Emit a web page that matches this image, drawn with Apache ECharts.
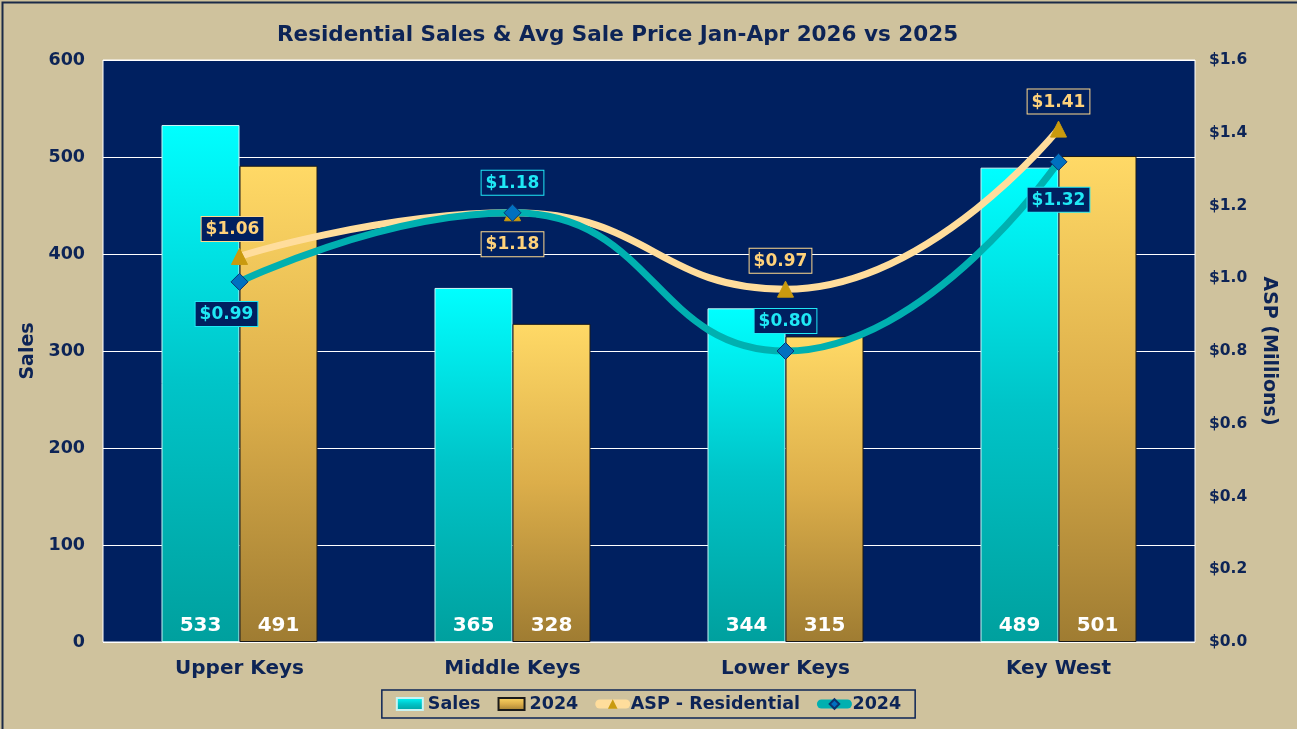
<!DOCTYPE html>
<html>
  <head>
    <meta charset="UTF-8" />
    <title>Residential Sales & Avg Sale Price</title>
    <script src="https://cdn.jsdelivr.net/npm/echarts@6.0.0/dist/echarts.min.js"></script>
    <style>
      html, body { margin: 0; padding: 0; background: #cfc29d; }
    </style>
  </head>
  <body>
    <div id="salesChart" style="width: 1297px; height: 729px"></div>
  </body>
  <script>
    const regions = ["Upper Keys", "Middle Keys", "Lower Keys", "Key West"];
    const sales2026 = [533, 365, 344, 489];
    const sales2024 = [491, 328, 315, 501];
    const aspResidential = [1.06, 1.18, 0.97, 1.41];
    const asp2024 = [0.99, 1.18, 0.8, 1.32];
    const salesTicks = [0, 100, 200, 300, 400, 500, 600];

    const navy = "#0d2456";
    const font = "DejaVu Sans";

    let myChart = echarts.init(document.getElementById("salesChart"));

    // label boxes for the two lines
    function boxLabel(textColor, borderColor) {
      return {
        show: true,
        color: textColor,
        fontFamily: font,
        fontWeight: "bold",
        fontSize: 17,
        backgroundColor: "#002060",
        borderColor: borderColor,
        borderWidth: 1,
        padding: [4, 4, 3, 4],
        formatter: (p) => "$" + p.value.toFixed(2),
      };
    }

    const goldPos = [
      { position: "top", offset: [-7, -2] },
      { position: "bottom", offset: [0, 6] },
      { position: "top", offset: [-5, -3] },
      { position: "top", offset: [0, -2] },
    ];
    const tealPos = [
      { position: "bottom", offset: [-13, 6] },
      { position: "top", offset: [0, -4] },
      { position: "top", offset: [0, -4] },
      { position: "bottom", offset: [0, 12] },
    ];

    myChart.setOption({
      backgroundColor: "#cfc29d",
      textStyle: { fontFamily: font },
      title: {
        text: "Residential Sales & Avg Sale Price Jan-Apr 2026 vs 2025",
        left: 272,
        top: 19,
        textStyle: { color: navy, fontSize: 21.5, fontWeight: "bold", fontFamily: font },
      },
      legend: {
        left: "center",
        top: 690,
        borderColor: navy,
        borderWidth: 1.5,
        padding: [5, 14, 5, 14],
        itemGap: 17,
        itemWidth: 26,
        itemHeight: 12,
        textStyle: { color: navy, fontSize: 17.5, fontWeight: "bold", fontFamily: font },
        data: [
          { name: "Sales", icon: "rect" },
          { name: "2024", icon: "rect" },
          { name: "ASP - Residential", lineStyle: { width: 9, cap: "round" } },
          { name: "2024 ", lineStyle: { width: 9, cap: "round" } },
        ],
        formatter: (n) => n.trim(),
      },
      grid: {
        left: 103,
        right: 102,
        top: 60,
        bottom: 87,
        show: true,
        backgroundColor: "#002060",
        borderColor: "#ffffff",
        borderWidth: 1,
      },
      xAxis: {
        type: "category",
        data: regions,
        axisLine: { show: false },
        axisTick: { show: false },
        axisLabel: { color: navy, fontSize: 20, fontWeight: "bold", margin: 17 },
      },
      yAxis: [
        {
          type: "value",
          min: salesTicks[0],
          max: salesTicks[salesTicks.length - 1],
          interval: 100,
          name: "Sales",
          nameLocation: "middle",
          nameRotate: 90,
          nameGap: 62,
          nameTextStyle: { color: navy, fontSize: 19, fontWeight: "bold" },
          axisLabel: { color: navy, fontSize: 17.5, fontWeight: "bold", margin: 18 },
          splitLine: { lineStyle: { color: "#ffffff", width: 1 } },
        },
        {
          type: "value",
          min: 0,
          max: 1.6,
          interval: 0.2,
          name: "ASP (Millions)",
          nameLocation: "middle",
          nameRotate: -90,
          nameGap: 64,
          nameTextStyle: { color: navy, fontSize: 19, fontWeight: "bold" },
          axisLabel: {
            color: navy,
            fontSize: 15.5,
            fontWeight: "bold",
            margin: 14,
            formatter: (v) => "$" + v.toFixed(1),
          },
          splitLine: { show: false },
        },
      ],
      series: [
        {
          name: "Sales",
          type: "bar",
          barWidth: 78,
          barGap: "0%",
          data: sales2026,
          itemStyle: {
            color: new echarts.graphic.LinearGradient(0, 0, 0, 1, [
              { offset: 0, color: "#00ffff" },
              { offset: 0.5, color: "#00c4c8" },
              { offset: 1, color: "#00a09e" },
            ]),
            borderColor: "#c8f4f4",
            borderWidth: 1,
          },
          label: {
            show: true,
            position: "insideBottom",
            distance: 6,
            color: "#ffffff",
            fontSize: 20,
            fontWeight: "bold",
          },
        },
        {
          name: "2024",
          type: "bar",
          barWidth: 78,
          data: sales2024,
          itemStyle: {
            color: new echarts.graphic.LinearGradient(0, 0, 0, 1, [
              { offset: 0, color: "#ffd966" },
              { offset: 0.5, color: "#dcae4a" },
              { offset: 1, color: "#9f7c32" },
            ]),
            borderColor: "#1a1a1a",
            borderWidth: 1,
          },
          label: {
            show: true,
            position: "insideBottom",
            distance: 6,
            color: "#ffffff",
            fontSize: 20,
            fontWeight: "bold",
          },
        },
        {
          name: "ASP - Residential",
          type: "line",
          yAxisIndex: 1,
          smooth: 0.5,
          data: aspResidential.map((v, i) => ({ value: v, label: goldPos[i] })),
          symbol: "triangle",
          symbolSize: 16,
          lineStyle: { color: "#ffdd9c", width: 7 },
          itemStyle: { color: "#c99a0e", borderColor: "#c99a0e" },
          label: boxLabel("#ffd27a", "#ffd98c"),
          z: 3,
        },
        {
          name: "2024 ",
          type: "line",
          yAxisIndex: 1,
          smooth: 0.5,
          data: asp2024.map((v, i) => ({ value: v, label: tealPos[i] })),
          symbol: "diamond",
          symbolSize: 17,
          lineStyle: { color: "#00b0b0", width: 7 },
          itemStyle: { color: "#0070c0", borderColor: "#0a3470", borderWidth: 1 },
          label: boxLabel("#1fe8f5", "#1fe8f5"),
          z: 4,
        },
      ],
      graphic: [
        {
          type: "rect",
          left: 0,
          top: 0,
          shape: { width: 1296, height: 728 },
          style: { fill: "none", stroke: "#1b2a48", lineWidth: 2 },
          silent: true,
        },
      ],
    });
  </script>
</html>
